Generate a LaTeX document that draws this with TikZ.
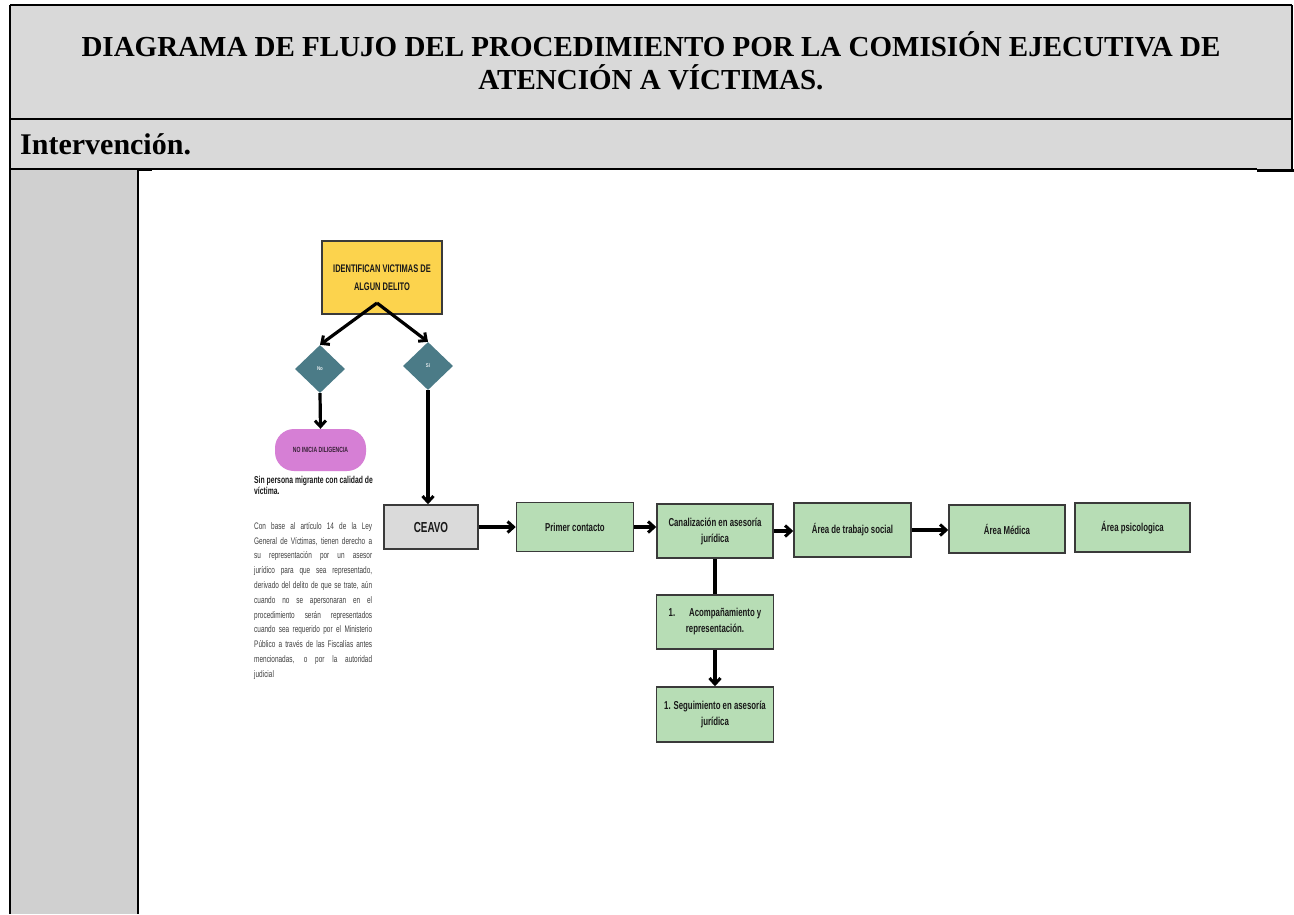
\documentclass[tikz,border=0pt]{standalone}
\usepackage{fontspec}
\setmainfont{Liberation Serif}
\newfontfamily\nar[FakeStretch=0.8]{Liberation Sans}
\newfontfamily\narr[FakeStretch=0.68]{Liberation Sans}
\usetikzlibrary{arrows.meta,shapes.geometric}
\definecolor{hdr}{HTML}{D9D9D9}
\definecolor{colgray}{HTML}{D0D0D0}
\definecolor{ybox}{HTML}{FCD34D}
\definecolor{teal}{HTML}{4B7B87}
\definecolor{pinkbox}{HTML}{D67FD5}
\definecolor{gbox}{HTML}{B7DDB5}
\definecolor{cbox}{HTML}{DADADA}
\definecolor{bordc}{HTML}{3A3A3A}
\begin{document}
\begin{tikzpicture}[x=1pt,y=-1pt,
  tline/.style={line width=2pt,black},
  stepbox/.style={draw=bordc,line width=1.5pt,fill=gbox,minimum width=117pt,inner sep=1pt,align=center,
    font=\narr\bfseries\fontsize{11.5}{16}\selectfont,text=black!90},
  dia/.style={diamond,fill=teal,minimum width=50pt,minimum height=48pt,inner sep=0pt,aspect=1,
    font=\nar\bfseries\fontsize{5.5}{6}\selectfont,text=white!85!teal},
  arr/.style={line width=3.2pt,black,-{Straight Barb[length=6pt,width=11pt,line width=3pt]}},
  plain/.style={line width=3.2pt,black}
]
\useasboundingbox (0,0) rectangle (1294,914);
\fill[white] (0,0) rectangle (1294,914);
% table
\fill[hdr] (10,5) rectangle (1292,169);
\fill[colgray] (10,169) rectangle (138,914);
\draw[tline] (10,5) -- (1292,5);
\draw[tline] (10,5) -- (10,914);
\draw[tline] (1292,5) -- (1292,169);
\draw[tline] (10,119) -- (1292,119);
\draw[line width=1.3pt] (10,169) -- (1257,169);
\draw[line width=2.4pt] (1257,170.5) -- (1294,170.5);
\draw[line width=2.4pt] (138,169.5) -- (152,169.5);
\draw[tline] (138,169) -- (138,914);
\node[font=\bfseries\fontsize{29}{33}\selectfont,align=center] (title) at (651,61)
  {DIAGRAMA DE FLUJO DEL PROCEDIMIENTO POR LA COMISIÓN EJECUTIVA DE\\ATENCIÓN A VÍCTIMAS.};
\node[font=\bfseries\fontsize{30}{30}\selectfont,anchor=west,inner sep=0pt] (interv) at (20,144) {Intervención.};
% flowchart
\node[draw=bordc,line width=1.5pt,fill=ybox,minimum width=120pt,minimum height=73pt,inner sep=1pt,align=center,
  font=\narr\bfseries\fontsize{11}{18}\selectfont,text=black!90] (ident) at (382,277.5)
  {IDENTIFICAN VICTIMAS DE\\ALGUN DELITO};
\coordinate (split) at (377,303);
\node[dia] (no) at (320,369) {No};
\node[dia] (si) at (428,366) {Sí};
\node[fill=pinkbox,rounded corners=19pt,minimum width=91pt,minimum height=42pt,inner sep=0pt,
  font=\narr\bfseries\fontsize{7.5}{8}\selectfont,text=black!75!pinkbox] (noinicia) at (320.5,450) {NO INICIA DILIGENCIA};
\node[anchor=north west,inner sep=0pt,align=left,font=\narr\bfseries\fontsize{10}{11.5}\selectfont,text=black!90] (sinp) at (254,476)
  {Sin persona migrante con calidad de\\víctima.};
\node[anchor=north west,inner sep=0pt,align=left,font=\narr\fontsize{9.5}{14.8}\selectfont,text=black!75] (parr) at (254,522)
  {\makebox[118pt][s]{Con base al artículo 14 de la Ley}\\
   \makebox[118pt][s]{General de Víctimas, tienen derecho a}\\
   \makebox[118pt][s]{su representación por un asesor}\\
   \makebox[118pt][s]{jurídico para que sea representado,}\\
   \makebox[118pt][s]{derivado del delito de que se trate, aún}\\
   \makebox[118pt][s]{cuando no se apersonaran en el}\\
   \makebox[118pt][s]{procedimiento serán representados}\\
   \makebox[118pt][s]{cuando sea requerido por el Ministerio}\\
   \makebox[118pt][s]{Público a través de las Fiscalías antes}\\
   \makebox[118pt][s]{mencionadas, o por la autoridad}\\
   judicial};
\node[draw=bordc,line width=1.5pt,fill=cbox,minimum width=94pt,minimum height=44pt,inner sep=0pt,
  font=\narr\bfseries\fontsize{14.5}{16}\selectfont,text=black!90] (ceavo) at (431,527) {CEAVO};
\node[stepbox,minimum height=49pt] (primer) at (575,527) {Primer contacto};
\node[stepbox,minimum height=54pt,minimum width=116pt] (canal) at (715,531) {Canalización en asesoría\\jurídica};
\node[stepbox,minimum height=54pt] (trabajo) at (852.5,530) {Área de trabajo social};
\node[stepbox,minimum height=48pt,minimum width=116pt] (medica) at (1007,529) {Área Médica};
\node[stepbox,minimum height=49pt,minimum width=115pt] (psico) at (1132.5,527.5) {Área psicologica};
\node[stepbox,minimum height=54pt] (acomp) at (715,622) {1.\hspace{14pt}Acompañamiento y\\representación.};
\node[stepbox,minimum height=55pt] (segui) at (715,714.5) {1. Seguimiento en asesoría\\jurídica};
% connectors
\draw[arr] (split) -- (no.north);
\draw[arr] (split) -- (si.north);
\draw[arr] (no.south) -- (noinicia.north);
\draw[arr] (si.south) -- (si.south |- ceavo.north);
\draw[arr] (ceavo.east) -- (primer.west);
\draw[arr] (primer.east) -- (primer.east -| canal.west);
\draw[arr] (canal.east) -- (canal.east -| trabajo.west);
\draw[arr] (trabajo.east) -- (trabajo.east -| medica.west);
\draw[plain] (canal.south) -- (acomp.north);
\draw[arr] (acomp.south) -- (segui.north);
\end{tikzpicture}
\end{document}
